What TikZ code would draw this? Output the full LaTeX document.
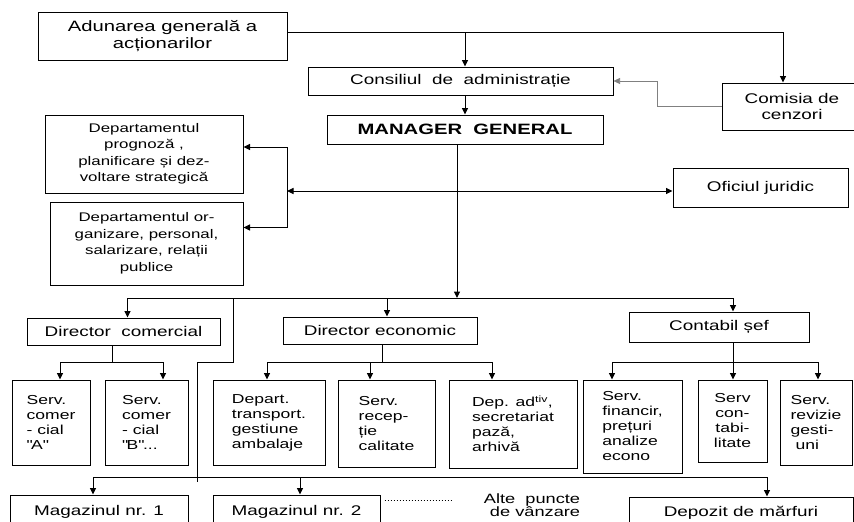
\documentclass[tikz,border=0pt]{standalone}
\usepackage{fontspec}
\setmainfont{Liberation Sans}[FakeStretch=1.35]
\usetikzlibrary{arrows.meta}

\begin{document}
\begin{tikzpicture}[x=1pt, y=-1pt, >={Triangle[length=6.5pt,width=6pt]}, line width=1pt,
  font=\fontsize{14}{16}\selectfont,
  box/.style={draw, inner sep=2pt, align=center},
  dbox/.style={box, font=\fontsize{12.5}{16.5}\selectfont},
  sbox/.style={draw, inner sep=2pt, align=left, font=\fontsize{13}{15}\selectfont}]
\useasboundingbox (0,0) rectangle (854,522);
\clip (0,0) rectangle (854,522);
% Top: shareholders, board, auditors, manager
\node[box, minimum width=249, minimum height=48, font=\fontsize{15}{17}\selectfont] (agen) at (162.5,36) {Adunarea generală a\\acționarilor};
\node[box, minimum width=305, minimum height=28] (cons) at (460.5,81) {Consiliul~ de~ administrație};
\node[box, minimum width=276, minimum height=29, font=\fontsize{15}{17}\selectfont\bfseries] (mgr) at (465,129.5) {MANAGER~ GENERAL};
\node[box, minimum width=140, minimum height=47] (cenz) at (792,106.5) {Comisia de\\cenzori};
% Staff departments
\node[dbox, minimum width=198, minimum height=78] (dep1) at (144,154) {Departamentul\\prognoză ,\\planificare și dez-\\voltare strategică};
\node[dbox, minimum width=193, minimum height=83] (dep2) at (146.5,243.5) {Departamentul or-\\ganizare, personal,\\salarizare, relații\\publice};
\node[box, minimum width=175, minimum height=39] (ofic) at (760.5,187.5) {Oficiul juridic};
% Directors
\node[box, minimum width=193, minimum height=27] (dcom) at (123.5,331.5) {Director~ comercial};
\node[box, minimum width=194, minimum height=27] (deco) at (380,330.5) {Director economic};
\node[box, minimum width=180, minimum height=30] (csef) at (719,327) {Contabil șef};
% Services
\node[sbox, minimum width=78, minimum height=85] (sa) at (51,422.5) {Serv.\\comer\\- cial\\\textquotedbl A\textquotedbl};
\node[sbox, minimum width=83, minimum height=85] (sb) at (146.5,422.5) {Serv.\\comer\\- cial\\\textquotedbl B\textquotedbl...};
\node[sbox, minimum width=112, minimum height=85] (dtr) at (269,422.5) {Depart.\\transport.\\gestiune\\ambalaje};
\node[sbox, minimum width=97, minimum height=87] (srec) at (386.5,423.5) {Serv.\\recep-\\ție\\calitate};
\node[sbox, minimum width=128, minimum height=88] (dad) at (513,424) {Dep. ad\textsuperscript{tiv},\\secretariat\\pază,\\arhivă};
\node[sbox, minimum width=99, minimum height=93] (sfin) at (632.5,426.5) {Serv.\\financir,\\prețuri\\analize\\econo};
\node[sbox, align=center, minimum width=69, minimum height=82] (scont) at (732.5,421) {Serv\\con-\\tabi-\\litate};
\node[sbox, minimum width=72, minimum height=85] (srev) at (816,422.5) {Serv.\\revizie\\gesti-\\\ uni};
% Shops
\node[box, minimum width=178, minimum height=33] (mag1) at (99,511.5) {Magazinul nr. 1};
\node[box, minimum width=167, minimum height=33] (mag2) at (296.5,511.5) {Magazinul nr. 2};
\node[align=right, inner sep=0pt, font=\fontsize{13.5}{13.5}\selectfont] (altp) at (532,505) {Alte~ puncte\\de vânzare};
\node[box, minimum width=224, minimum height=31] (depoz) at (741,512.5) {Depozit de mărfuri};

% Top connectors
\draw[->] ([yshift=4pt]agen.east) -| ([xshift=-9pt]cenz.north);
\draw[->] ([yshift=4pt]agen.east -| mgr.north) -- (cons.north -| mgr.north);
\draw[->] (cons.south -| mgr.north) -- (mgr.north);
\coordinate (gb) at (657,0);
\draw[->, gray, line width=0.6pt] (cenz.west) -- (cenz.west -| gb) -- (cons.east -| gb) -- (cons.east);
% Staff
\coordinate (sp) at (287,191);
\draw[<->] (sp) -- (sp -| ofic.west);
\draw[->] (sp) |- ([yshift=7pt]dep1.east);
\draw[->] (sp) |- ([yshift=16pt]dep2.east);
% Manager to directors
\coordinate (mb) at (457,298);
\draw[->] (mgr.south -| mb) -- (mb);
\draw ([xshift=4pt]dcom.north |- mb) -- ([xshift=14pt]csef.north |- mb);
\foreach \n/\s in {dcom/4, deco/7, csef/14}
  \draw[->] ([xshift=\s pt]\n.north |- mb) -- ([xshift=\s pt]\n.north);
% Directors to services
\coordinate (b2) at (0,362);
\draw ([xshift=-11.5pt]dcom.south) -- ([xshift=-11.5pt]dcom.south |- b2);
\draw ([xshift=9pt]sa.north |- b2) -- ([xshift=16.5pt]sb.north |- b2);
\draw ([xshift=2pt]deco.south) -- ([xshift=2pt]deco.south |- b2);
\draw ([xshift=-2pt]dtr.north |- b2) -- ([xshift=-21pt]dad.north |- b2);
\draw ([xshift=14pt]csef.south) -- ([xshift=14pt]csef.south |- b2);
\draw ([xshift=-20.5pt]sfin.north |- b2) -- ([xshift=2pt]srev.north |- b2);
\foreach \n/\s in {sa/9, sb/16.5, dtr/-2, srec/-16.5, dad/-21, sfin/-20.5, scont/0.5, srev/2}
  \draw[->] ([xshift=\s pt]\n.north |- b2) -- ([xshift=\s pt]\n.north);
% Shops
\coordinate (st) at (233,298);
\coordinate (jog) at (197,362);
\coordinate (b3) at (0,477);
\draw (st) |- (jog) -- ([yshift=-5pt]jog |- b3);
\draw ([xshift=-6pt]mag1.north |- b3) -- ([xshift=26pt]depoz.north |- b3);
\foreach \n/\s in {mag1/-6, mag2/3.5, depoz/26}
  \draw[->] ([xshift=\s pt]\n.north |- b3) -- ([xshift=\s pt]\n.north);
\coordinate (dend) at (453,500);
\draw[dotted, shorten <=4pt] (dend -| mag2.east) -- (dend);
\end{tikzpicture}
\end{document}
